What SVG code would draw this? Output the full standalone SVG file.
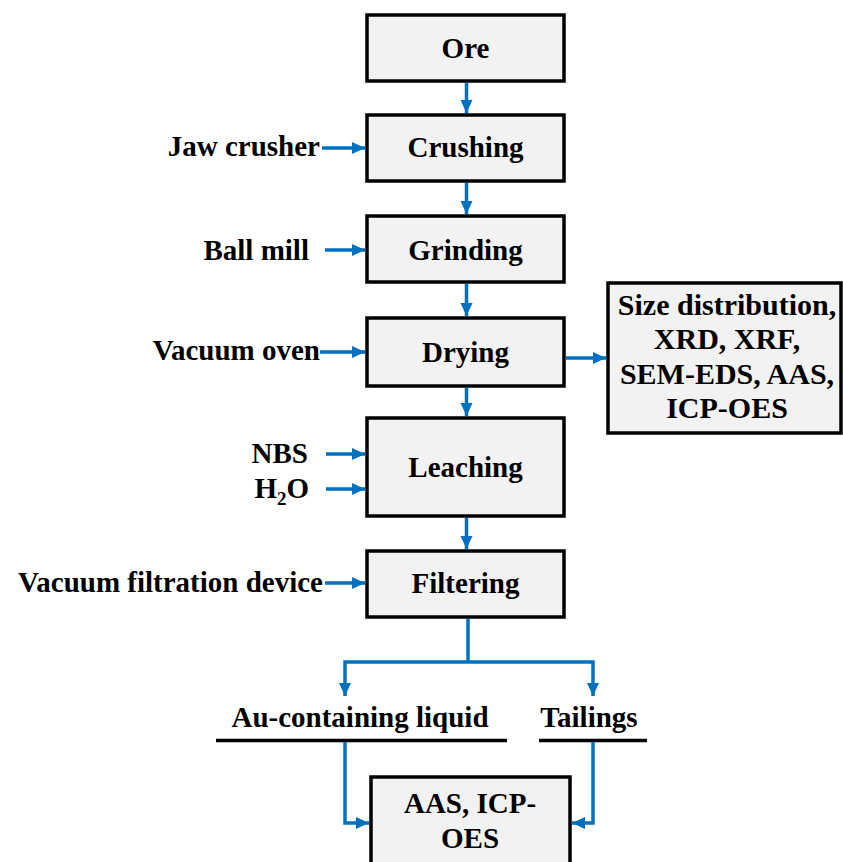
<svg xmlns="http://www.w3.org/2000/svg" width="843" height="862" viewBox="0 0 843 862">
  <style>
    .box { fill: #f2f2f2; stroke: #000; stroke-width: 3.5; }
    .lbl { font-family: "Liberation Serif", "Times New Roman", serif; font-weight: bold; font-size: 29px; fill: #000; }
    .big { font-size: 30px; }
    .mid { text-anchor: middle; }
    .end { text-anchor: end; }
    .flow { fill: none; stroke: #0070c0; stroke-width: 3.5; marker-end: url(#head); }
    .link { fill: none; stroke: #0070c0; stroke-width: 3.5; }
    .rule { stroke: #000; stroke-width: 3.5; }
  </style>
  <defs>
    <marker id="head" markerUnits="userSpaceOnUse" markerWidth="13" markerHeight="13" viewBox="0 0 13 13" refX="13" refY="6.5" orient="auto">
      <path d="M0,0.5 L13,6.5 L0,12.5 Z" fill="#0070c0"/>
    </marker>
  </defs>
  <rect width="843" height="862" fill="#fff"/>

  <!-- process steps -->
  <g id="ore">
    <rect class="box" x="367" y="15" width="197" height="66"/>
    <text class="lbl mid" x="465.5" y="58">Ore</text>
  </g>
  <g id="crushing">
    <rect class="box" x="367" y="115" width="197" height="66"/>
    <text class="lbl mid" x="465.5" y="157">Crushing</text>
  </g>
  <g id="grinding">
    <rect class="box" x="367" y="216" width="197" height="66"/>
    <text class="lbl mid" x="465.5" y="260">Grinding</text>
  </g>
  <g id="drying">
    <rect class="box" x="367" y="318" width="197" height="68"/>
    <text class="lbl mid" x="465.5" y="362">Drying</text>
  </g>
  <g id="leaching">
    <rect class="box" x="367" y="418" width="197" height="98"/>
    <text class="lbl mid" x="465.5" y="477">Leaching</text>
  </g>
  <g id="filtering">
    <rect class="box" x="367" y="551" width="197" height="66"/>
    <text class="lbl mid" x="465.5" y="593">Filtering</text>
  </g>
  <g id="characterization">
    <rect class="box" x="608" y="283" width="233" height="150"/>
    <text class="lbl big mid" x="727" y="315">Size distribution,</text>
    <text class="lbl big mid" x="727" y="349">XRD, XRF,</text>
    <text class="lbl big mid" x="727" y="384">SEM-EDS, AAS,</text>
    <text class="lbl big mid" x="727" y="418">ICP-OES</text>
  </g>
  <g id="analysis">
    <rect class="box" x="371" y="777" width="199" height="100"/>
    <text class="lbl mid" x="470" y="813">AAS, ICP-</text>
    <text class="lbl mid" x="470" y="848">OES</text>
  </g>

  <!-- inputs -->
  <g id="jaw-crusher"><text class="lbl end" x="320" y="156">Jaw crusher</text></g>
  <g id="ball-mill"><text class="lbl end" x="309" y="260">Ball mill</text></g>
  <g id="vacuum-oven"><text class="lbl end" x="320" y="360">Vacuum oven</text></g>
  <g id="nbs"><text class="lbl end" x="308" y="463">NBS</text></g>
  <g id="water"><text class="lbl end" x="309" y="498">H<tspan font-size="19" dy="7">2</tspan><tspan dy="-7">O</tspan></text></g>
  <g id="vacuum-filtration"><text class="lbl end" x="323" y="592">Vacuum filtration device</text></g>

  <!-- products -->
  <g id="au-liquid">
    <text class="lbl mid" x="360" y="727">Au-containing liquid</text>
    <line class="rule" x1="216" y1="740.5" x2="507" y2="740.5"/>
  </g>
  <g id="tailings">
    <text class="lbl mid" x="589" y="727">Tailings</text>
    <line class="rule" x1="539" y1="740.5" x2="647" y2="740.5"/>
  </g>

  <!-- connectors -->
  <g id="connectors">
    <line class="flow" x1="466.5" y1="83" x2="466.5" y2="113"/>
    <line class="flow" x1="466.5" y1="183" x2="466.5" y2="214"/>
    <line class="flow" x1="466.5" y1="284" x2="466.5" y2="316"/>
    <line class="flow" x1="466.5" y1="388" x2="466.5" y2="416"/>
    <line class="flow" x1="466.5" y1="518" x2="466.5" y2="549"/>

    <line class="flow" x1="322" y1="148" x2="365" y2="148"/>
    <line class="flow" x1="325" y1="250" x2="365" y2="250"/>
    <line class="flow" x1="320" y1="352" x2="365" y2="352"/>
    <line class="flow" x1="326" y1="454" x2="365" y2="454"/>
    <line class="flow" x1="326" y1="489" x2="365" y2="489"/>
    <line class="flow" x1="325" y1="583" x2="365" y2="583"/>

    <line class="flow" x1="566" y1="358" x2="606" y2="358"/>

    <polyline class="link" points="468,619 468,662"/>
    <polyline class="flow" points="468,662 345,662 345,696"/>
    <polyline class="flow" points="468,662 593,662 593,696"/>

    <polyline class="flow" points="345,742 345,823 369,823"/>
    <polyline class="flow" points="593,742 593,823 572,823"/>
  </g>
</svg>
